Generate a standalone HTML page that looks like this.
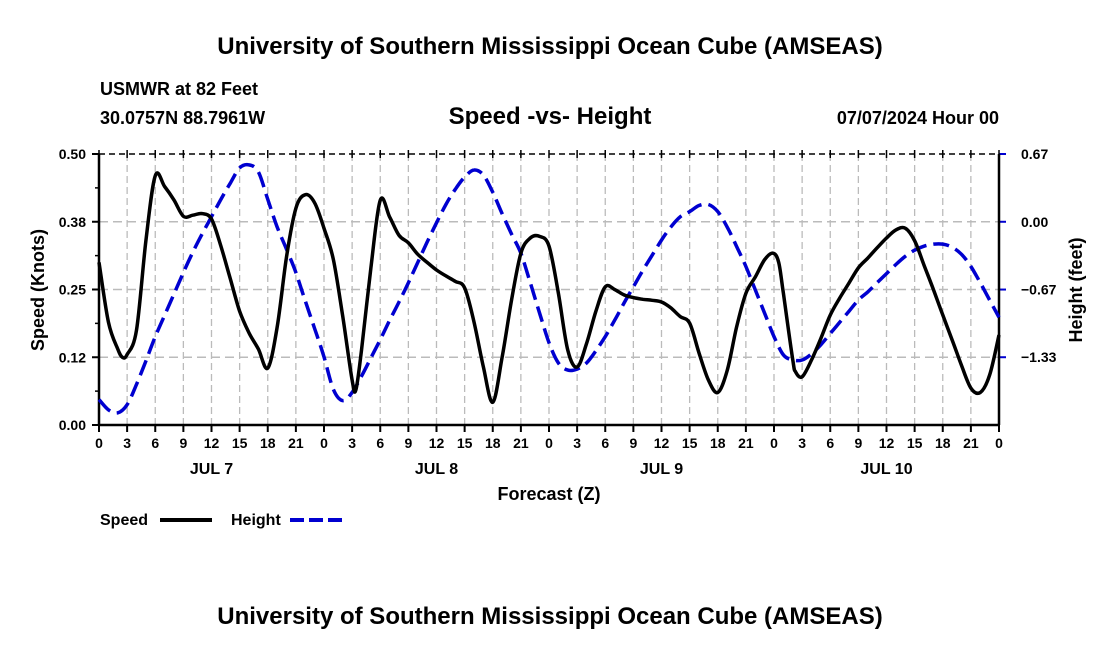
<!DOCTYPE html>
<html><head><meta charset="utf-8"><style>
body{margin:0;background:#fff;}
svg{display:block;font-family:"Liberation Sans",Arial,sans-serif;font-weight:bold;}
</style></head><body>
<svg id="chart" width="1100" height="650" viewBox="0 0 1100 650">
<text x="550" y="54" font-size="24" text-anchor="middle">University of Southern Mississippi Ocean Cube (AMSEAS)</text>
<text x="100" y="95" font-size="18">USMWR at 82 Feet</text>
<text x="100" y="124" font-size="18">30.0757N  88.7961W</text>
<text x="550" y="124" font-size="24" text-anchor="middle">Speed -vs- Height</text>
<text x="999" y="124" font-size="18" text-anchor="end">07/07/2024 Hour 00</text>
<g id="grid"></g>
<g id="axes"></g>
<g id="series"></g>
<text x="549" y="500" font-size="18" text-anchor="middle">Forecast (Z)</text>
<text transform="translate(44,290) rotate(-90)" font-size="18" text-anchor="middle">Speed (Knots)</text>
<text transform="translate(1082,290) rotate(-90)" font-size="18" text-anchor="middle">Height (feet)</text>
<g>
<text x="100" y="525" font-size="16">Speed</text>
<line x1="160" y1="520" x2="212" y2="520" stroke="#000" stroke-width="4"/>
<text x="231" y="525" font-size="16">Height</text>
<line x1="290" y1="520" x2="342" y2="520" stroke="#0000d0" stroke-width="4" stroke-dasharray="14,5"/>
</g>
<text x="550" y="624" font-size="24" text-anchor="middle">University of Southern Mississippi Ocean Cube (AMSEAS)</text>
</svg>
<script>
const speedHours=[0,1,2,2.5,3,4,5,6,7,8,9,10,11,12,13,14,15,16,17,18,19,20,21,22,23,24,25,26,27,27.4,28,29,30,31,32,33,34,35,36,37,38,39,40,41,42,43,44,45,46,47,48,49,50,51,52,53,54,55,56,57,58,59,60,61,62,63,64,65,66,67,68,69,70,71,71.9,72.5,73,74,74.3,75,76,77,78,79,80,81,82,83,84,85,86,87,88,89,90,91,92,93,94,95,96];
const speedValues=[0.30,0.19,0.14,0.125,0.13,0.175,0.34,0.46,0.44,0.415,0.385,0.387,0.39,0.38,0.33,0.27,0.21,0.17,0.14,0.105,0.18,0.31,0.40,0.425,0.41,0.363,0.305,0.2,0.083,0.065,0.138,0.29,0.415,0.384,0.35,0.336,0.315,0.30,0.286,0.275,0.265,0.253,0.19,0.107,0.042,0.125,0.23,0.317,0.345,0.348,0.33,0.243,0.138,0.107,0.15,0.21,0.255,0.25,0.24,0.235,0.232,0.23,0.227,0.216,0.2,0.188,0.133,0.083,0.06,0.10,0.18,0.243,0.273,0.305,0.317,0.30,0.243,0.12,0.098,0.089,0.12,0.16,0.203,0.234,0.262,0.29,0.308,0.327,0.345,0.36,0.363,0.34,0.295,0.25,0.203,0.157,0.11,0.068,0.06,0.092,0.166];
const heightValues=[-1.75,-1.85,-1.88,-1.80,-1.60,-1.37,-1.13,-0.92,-0.71,-0.50,-0.30,-0.12,0.05,0.22,0.38,0.53,0.56,0.49,0.22,-0.05,-0.27,-0.50,-0.78,-1.05,-1.33,-1.65,-1.76,-1.68,-1.52,-1.34,-1.16,-0.97,-0.79,-0.60,-0.40,-0.20,-0.01,0.17,0.32,0.44,0.51,0.46,0.29,0.08,-0.12,-0.31,-0.60,-0.90,-1.19,-1.39,-1.46,-1.45,-1.39,-1.27,-1.13,-0.97,-0.80,-0.64,-0.48,-0.33,-0.18,-0.05,0.05,0.10,0.16,0.17,0.10,-0.05,-0.24,-0.44,-0.67,-0.90,-1.13,-1.31,-1.36,-1.36,-1.30,-1.21,-1.10,-0.99,-0.88,-0.77,-0.69,-0.60,-0.51,-0.42,-0.34,-0.28,-0.24,-0.22,-0.22,-0.25,-0.32,-0.44,-0.60,-0.77,-0.94];
const speedTicks=[0,0.125,0.25,0.375,0.5];
const speedTickLabels=["0.00","0.12","0.25","0.38","0.50"];
const heightTicks=[0.667,0,-0.667,-1.333];
const heightTickLabels=["0.67","0.00","\u22120.67","\u22121.33"];
const dayLabels=["JUL 7","JUL 8","JUL 9","JUL 10"];

const NS="http://www.w3.org/2000/svg";
const L=99,R=999,T=154,B=425;
const x=h=>L+(R-L)*h/96;
const yS=v=>B-(B-T)*v/0.5;
const yH=v=>B-(B-T)*(v+2)/2.667;
function mk(tag,attrs,parent){const e=document.createElementNS(NS,tag);for(const k in attrs)e.setAttribute(k,attrs[k]);parent.appendChild(e);return e;}
const grid=document.getElementById('grid'),axes=document.getElementById('axes'),series=document.getElementById('series');
for(let h=3;h<96;h+=3){const g=mk('line',{x1:x(h),x2:x(h),y1:T,y2:B,stroke:'#bbb','stroke-width':1.3,'stroke-dasharray':'7,4'},grid);

}
speedTicks.forEach((v,i)=>{if(v>0&&v<0.5){const g=mk('line',{x1:L,x2:R,y1:yS(v),y2:yS(v),stroke:'#bbb','stroke-width':1.5,'stroke-dasharray':'9,5'},grid);

}
const t=mk('text',{x:L-13,y:yS(v)+5,'font-size':14,'text-anchor':'end'},axes);t.textContent=speedTickLabels[i];


mk('line',{x1:L-7,x2:L,y1:yS(v),y2:yS(v),stroke:'#000','stroke-width':2},axes);});
for(let k=1;k<8;k+=2){mk('line',{x1:L-4,x2:L,y1:yS(k*0.0625),y2:yS(k*0.0625),stroke:'#000','stroke-width':1.5},axes);}
heightTicks.forEach((v,i)=>{mk('line',{x1:R,x2:R+7,y1:yH(v),y2:yH(v),stroke:'#0000d0','stroke-width':2},axes);
const t=mk('text',{x:R+22,y:yH(v)+5,'font-size':14},axes);t.textContent=heightTickLabels[i];

});
mk('line',{x1:L,x2:R,y1:T,y2:T,stroke:'#000','stroke-width':1.5,'stroke-dasharray':'6,4'},axes);
mk('line',{x1:L,x2:R,y1:B,y2:B,stroke:'#000','stroke-width':2.5},axes);
mk('line',{x1:L,x2:L,y1:T,y2:B,stroke:'#000','stroke-width':2.5},axes);
mk('line',{x1:R,x2:R,y1:T,y2:B,stroke:'#000','stroke-width':2.5},axes);
for(let h=0;h<=96;h+=3){mk('line',{x1:x(h),x2:x(h),y1:B,y2:B+7,stroke:'#000','stroke-width':2},axes);
mk('line',{x1:x(h),x2:x(h),y1:T-4,y2:T+4,stroke:'#000','stroke-width':1.5},axes);
const t=mk('text',{x:x(h),y:B+23,'font-size':14,'text-anchor':'middle'},axes);t.textContent=String(h%24);

}
dayLabels.forEach((d,i)=>{const t=mk('text',{x:x(12+24*i),y:B+49,'font-size':16,'text-anchor':'middle'},axes);t.textContent=d;

});
function smooth(pts){let d='M'+pts[0][0]+','+pts[0][1];for(let i=0;i<pts.length-1;i++){const p0=pts[Math.max(0,i-1)],p1=pts[i],p2=pts[i+1],p3=pts[Math.min(pts.length-1,i+2)];
const c1x=p1[0]+(p2[0]-p0[0])/6,c1y=p1[1]+(p2[1]-p0[1])/6,c2x=p2[0]-(p3[0]-p1[0])/6,c2y=p2[1]-(p3[1]-p1[1])/6;
d+=' C'+c1x.toFixed(1)+','+c1y.toFixed(1)+' '+c2x.toFixed(1)+','+c2y.toFixed(1)+' '+p2[0].toFixed(1)+','+p2[1].toFixed(1);}return d;}
const hp=mk('path',{d:smooth(heightValues.map((v,i)=>[x(i),yH(v)])),fill:'none',stroke:'#0000d0','stroke-width':3.5,'stroke-dasharray':'16,7'},series);


const sp=mk('path',{d:smooth(speedValues.map((v,i)=>[x(speedHours[i]),yS(v)])),fill:'none',stroke:'#000','stroke-width':3.5,'stroke-linejoin':'round'},series);


</script>
</body></html>
